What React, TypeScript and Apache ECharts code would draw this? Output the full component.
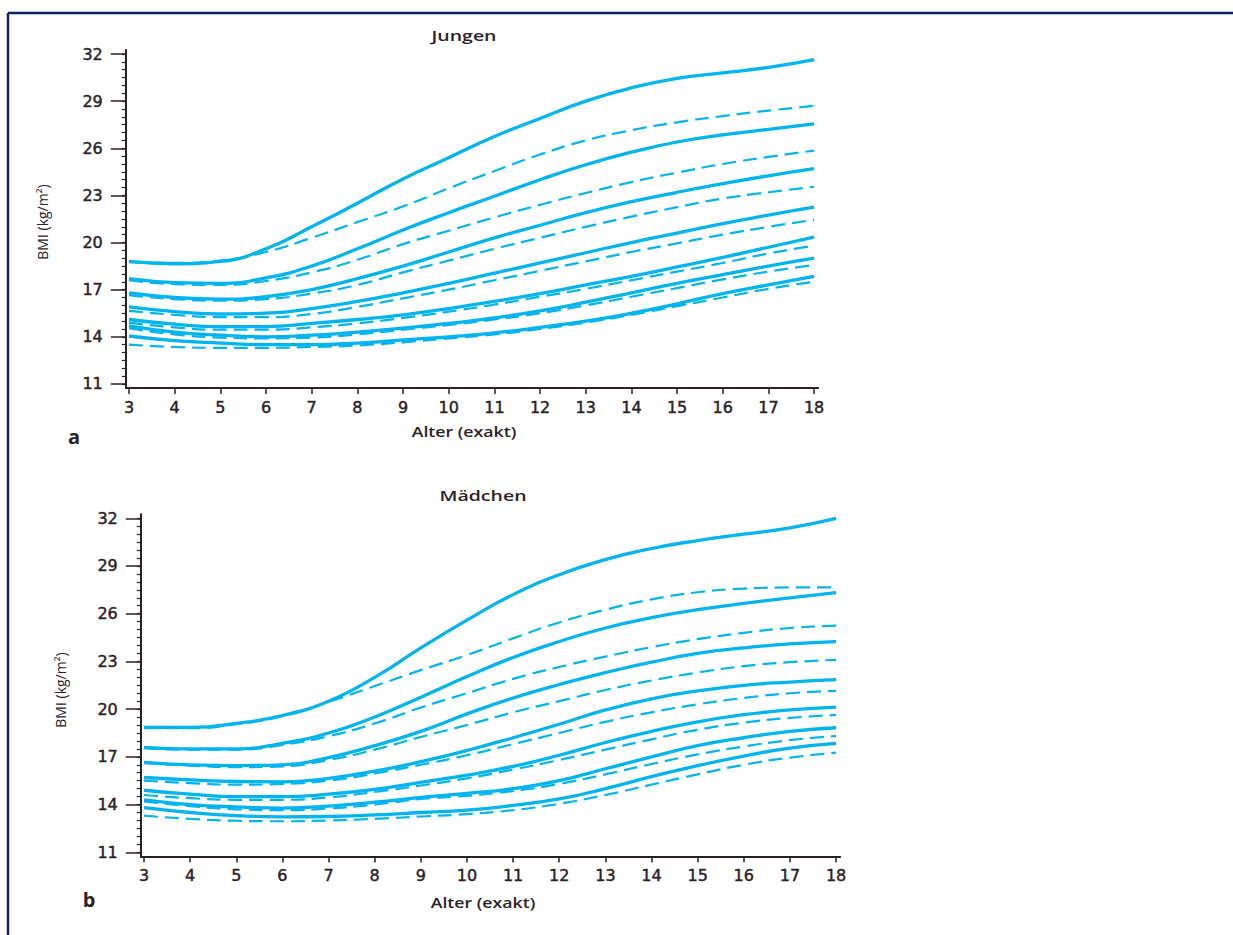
import React, { useEffect, useRef } from "react";
import * as echarts from "echarts";

// ---------- data ----------
const AGES = [3, 4, 5, 6, 7, 8, 9, 10, 11, 12, 13, 14, 15, 16, 17, 18];
const X_TICKS = [3, 4, 5, 6, 7, 8, 9, 10, 11, 12, 13, 14, 15, 16, 17, 18];
const Y_TICKS = [11, 14, 17, 20, 23, 26, 29, 32];
const Y_MINOR = [
  11, 11.5, 12, 12.5, 13, 13.5, 14, 14.5, 15, 15.5, 16, 16.5, 17, 17.5, 18, 18.5, 19, 19.5, 20, 20.5, 21, 21.5,
  22, 22.5, 23, 23.5, 24, 24.5, 25, 25.5, 26, 26.5, 27, 27.5, 28, 28.5, 29, 29.5, 30, 30.5, 31, 31.5, 32,
];
const PERCENTILES = ["P3", "P10", "P25", "P50", "P75", "P90", "P97"];

// Jungen – solid curves
const jS3 = [14.05, 13.75, 13.6, 13.5, 13.5, 13.6, 13.8, 14.0, 14.25, 14.6, 15.0, 15.5, 16.1, 16.75, 17.3, 17.85];
const jS10 = [14.7, 14.3, 14.1, 14.0, 14.1, 14.3, 14.55, 14.85, 15.2, 15.65, 16.2, 16.8, 17.4, 17.95, 18.5, 19.0];
const jS25 = [15.1, 14.8, 14.65, 14.65, 14.85, 15.1, 15.4, 15.8, 16.25, 16.75, 17.3, 17.85, 18.45, 19.05, 19.7, 20.35];
const jS50 = [15.9, 15.6, 15.45, 15.5, 15.8, 16.25, 16.8, 17.4, 18.05, 18.7, 19.35, 20.0, 20.6, 21.2, 21.75, 22.25];
const jS75 = [16.8, 16.5, 16.4, 16.55, 17.0, 17.7, 18.5, 19.4, 20.3, 21.1, 21.9, 22.6, 23.2, 23.75, 24.25, 24.7];
const jS90 = [17.7, 17.45, 17.4, 17.75, 18.5, 19.6, 20.8, 21.9, 22.95, 24.0, 24.95, 25.75, 26.4, 26.85, 27.2, 27.55];
const jS97 = [18.8, 18.65, 18.8, 19.6, 21.0, 22.5, 24.05, 25.4, 26.75, 27.9, 29.0, 29.85, 30.45, 30.8, 31.15, 31.65];
// Jungen – dashed curves
const jD3 = [13.5, 13.35, 13.3, 13.3, 13.35, 13.45, 13.65, 13.9, 14.15, 14.5, 14.9, 15.4, 15.95, 16.5, 17.05, 17.5];
const jD10 = [14.55, 14.15, 13.95, 13.9, 13.95, 14.15, 14.45, 14.75, 15.1, 15.5, 16.0, 16.55, 17.1, 17.65, 18.15, 18.57];
const jD25 = [14.9, 14.6, 14.45, 14.45, 14.6, 14.85, 15.2, 15.6, 16.05, 16.55, 17.05, 17.6, 18.15, 18.7, 19.3, 19.8];
const jD50 = [15.65, 15.4, 15.25, 15.25, 15.45, 15.9, 16.45, 17.0, 17.6, 18.2, 18.8, 19.4, 19.95, 20.5, 21.0, 21.45];
const jD75 = [16.65, 16.4, 16.3, 16.4, 16.75, 17.3, 18.1, 18.85, 19.6, 20.3, 21.0, 21.65, 22.25, 22.8, 23.2, 23.55];
const jD90 = [17.6, 17.35, 17.3, 17.55, 18.1, 18.9, 19.9, 20.75, 21.6, 22.4, 23.15, 23.85, 24.45, 25.0, 25.45, 25.85];
const jD97 = [18.75, 18.7, 18.85, 19.4, 20.3, 21.3, 22.3, 23.45, 24.55, 25.6, 26.5, 27.15, 27.65, 28.05, 28.4, 28.7];

// Mädchen – solid curves
const mS3 = [13.8, 13.5, 13.3, 13.23, 13.25, 13.35, 13.5, 13.65, 13.95, 14.35, 15.0, 15.75, 16.45, 17.05, 17.55, 17.85];
const mS10 = [14.3, 14.0, 13.85, 13.78, 13.9, 14.15, 14.45, 14.7, 15.0, 15.5, 16.25, 17.0, 17.7, 18.2, 18.6, 18.83];
const mS25 = [14.9, 14.65, 14.5, 14.5, 14.65, 14.95, 15.4, 15.85, 16.4, 17.1, 17.9, 18.6, 19.2, 19.65, 19.95, 20.13];
const mS50 = [15.7, 15.55, 15.45, 15.43, 15.65, 16.1, 16.7, 17.4, 18.2, 19.05, 19.95, 20.65, 21.15, 21.5, 21.7, 21.85];
const mS75 = [16.65, 16.5, 16.45, 16.5, 16.95, 17.7, 18.6, 19.7, 20.7, 21.55, 22.3, 22.95, 23.5, 23.85, 24.1, 24.24];
const mS90 = [17.6, 17.5, 17.5, 17.85, 18.5, 19.5, 20.75, 22.05, 23.25, 24.25, 25.1, 25.75, 26.25, 26.65, 27.0, 27.32];
const mS97 = [18.85, 18.85, 19.1, 19.6, 20.5, 22.0, 23.85, 25.6, 27.2, 28.45, 29.4, 30.1, 30.6, 31.0, 31.4, 32.0];
// Mädchen – dashed curves
const mD3 = [13.3, 13.1, 12.98, 12.95, 13.0, 13.1, 13.25, 13.4, 13.65, 14.05, 14.6, 15.25, 15.9, 16.5, 16.95, 17.26];
const mD10 = [14.2, 13.9, 13.7, 13.65, 13.75, 14.0, 14.35, 14.55, 14.85, 15.3, 15.9, 16.55, 17.15, 17.65, 18.05, 18.31];
const mD25 = [14.6, 14.4, 14.3, 14.3, 14.45, 14.8, 15.2, 15.65, 16.2, 16.8, 17.45, 18.1, 18.7, 19.15, 19.45, 19.63];
const mD50 = [15.5, 15.35, 15.25, 15.3, 15.5, 15.95, 16.5, 17.1, 17.8, 18.5, 19.2, 19.8, 20.3, 20.7, 21.0, 21.15];
const mD75 = [16.6, 16.45, 16.35, 16.4, 16.8, 17.45, 18.25, 19.0, 19.8, 20.5, 21.2, 21.8, 22.3, 22.7, 22.95, 23.1];
const mD90 = [17.55, 17.45, 17.45, 17.75, 18.3, 19.1, 20.1, 21.0, 21.9, 22.65, 23.3, 23.9, 24.4, 24.8, 25.1, 25.25];
const mD97 = [18.8, 18.8, 19.05, 19.55, 20.45, 21.45, 22.45, 23.4, 24.45, 25.45, 26.25, 26.9, 27.35, 27.58, 27.65, 27.66];

// ---------- styling / layout ----------
const LINE_COLOR = "#00b4f0";
const INK = "#2a2226";
const FONT = "'Open Sans', 'Noto Sans', sans-serif";
const TICK_FONT = "'DejaVu Sans', 'Open Sans', sans-serif";
const X_MIN = 2.93;
const X_MAX = 18.09;
const Y_MIN = 10.74;
const Y_MAX = 32.25;

const PANELS = [
  {
    title: "Jungen",
    tag: "a",
    solid: [jS3, jS10, jS25, jS50, jS75, jS90, jS97],
    dashed: [jD3, jD10, jD25, jD50, jD75, jD90, jD97],
    grid: { left: 125.8, top: 50.1, width: 692.4, height: 337.9 },
    titlePos: [464, 35],
    xNamePos: [464, 431],
    yNamePos: [42, 222],
    tagPos: [74, 436],
  },
  {
    title: "Mädchen",
    tag: "b",
    solid: [mS3, mS10, mS25, mS50, mS75, mS90, mS97],
    dashed: [mD3, mD10, mD25, mD50, mD75, mD90, mD97],
    grid: { left: 140.8, top: 514.3, width: 699.4, height: 342.1 },
    titlePos: [483, 495],
    xNamePos: [483, 902],
    yNamePos: [60, 690],
    tagPos: [89, 899],
  },
];

const tickLabelStyle = {
  fontSize: 16,
  fontFamily: TICK_FONT,
  color: INK,
  textBorderColor: INK,
  textBorderWidth: 0.45,
};

function buildOption() {
  const grids: any[] = [];
  const xAxes: any[] = [];
  const yAxes: any[] = [];
  const series: any[] = [];
  const graphics: any[] = [];

  PANELS.forEach((p, pi) => {
    grids.push({ ...p.grid, containLabel: false });
    xAxes.push({
      type: "value",
      gridIndex: pi,
      min: X_MIN,
      max: X_MAX,
      splitLine: { show: false },
      axisLine: { show: true, lineStyle: { color: INK, width: 2 } },
      axisTick: { show: true, customValues: X_TICKS, length: 6, lineStyle: { color: INK, width: 1.5 } },
      axisLabel: { customValues: X_TICKS, margin: 11, ...tickLabelStyle },
    });
    // major y axis
    yAxes.push({
      type: "value",
      gridIndex: pi,
      position: "left",
      min: Y_MIN,
      max: Y_MAX,
      splitLine: { show: false },
      axisLine: { show: true, lineStyle: { color: INK, width: 2 } },
      axisTick: { show: true, customValues: Y_TICKS, length: 15, lineStyle: { color: INK, width: 1.5 } },
      axisLabel: { customValues: Y_TICKS, margin: 23, ...tickLabelStyle },
    });
    // minor y ticks
    yAxes.push({
      type: "value",
      gridIndex: pi,
      position: "left",
      offset: 0,
      min: Y_MIN,
      max: Y_MAX,
      splitLine: { show: false },
      axisLine: { show: false },
      axisLabel: { show: false },
      axisTick: { show: true, customValues: Y_MINOR, length: 4, lineStyle: { color: INK, width: 1.2 } },
    });

    const yIdx = pi * 2;
    p.dashed.forEach((vals, k) => {
      series.push({
        name: `${p.title} ${PERCENTILES[k]} (gestrichelt)`,
        type: "line",
        xAxisIndex: pi,
        yAxisIndex: yIdx,
        data: AGES.map((a, i) => [a, vals[i]]),
        smooth: true,
        showSymbol: false,
        symbol: "none",
        lineStyle: { color: LINE_COLOR, width: 2.2, type: [14, 7] },
        z: 2,
      });
    });
    p.solid.forEach((vals, k) => {
      series.push({
        name: `${p.title} ${PERCENTILES[k]}`,
        type: "line",
        xAxisIndex: pi,
        yAxisIndex: yIdx,
        data: AGES.map((a, i) => [a, vals[i]]),
        smooth: true,
        showSymbol: false,
        symbol: "none",
        lineStyle: { color: LINE_COLOR, width: 3.3 },
        z: 3,
      });
    });

    graphics.push(
      {
        type: "text",
        x: p.titlePos[0],
        y: p.titlePos[1],
        scaleX: 1.3,
        style: {
          text: p.title,
          fill: INK,
          font: `600 15px ${FONT}`,
          textAlign: "center",
          textVerticalAlign: "middle",
        },
      },
      {
        type: "text",
        x: p.xNamePos[0],
        y: p.xNamePos[1],
        scaleX: 1.18,
        style: {
          text: "Alter (exakt)",
          fill: INK,
          font: `600 15px ${FONT}`,
          textAlign: "center",
          textVerticalAlign: "middle",
        },
      },
      {
        type: "text",
        x: p.yNamePos[0],
        y: p.yNamePos[1],
        rotation: Math.PI / 2,
        style: {
          text: "BMI (kg/m²)",
          fill: INK,
          font: `500 14px ${FONT}`,
          textAlign: "center",
          textVerticalAlign: "middle",
        },
      },
      {
        type: "text",
        x: p.tagPos[0],
        y: p.tagPos[1],
        style: {
          text: p.tag,
          fill: INK,
          font: `bold 20px ${FONT}`,
          textAlign: "center",
          textVerticalAlign: "middle",
        },
      }
    );
  });

  // page frame (top and left rules)
  graphics.push(
    { type: "line", shape: { x1: 8, y1: 13, x2: 1233, y2: 13 }, style: { stroke: "#0b2263", lineWidth: 2.5 } },
    { type: "line", shape: { x1: 8, y1: 13, x2: 8, y2: 935 }, style: { stroke: "#0b2263", lineWidth: 2.5 } }
  );

  return {
    animation: false,
    backgroundColor: "#ffffff",
    grid: grids,
    xAxis: xAxes,
    yAxis: yAxes,
    series,
    graphic: graphics,
  };
}

export default function App() {
  const ref = useRef<HTMLDivElement>(null);
  useEffect(() => {
    if (!ref.current) return;
    const chart = echarts.init(ref.current, null, { renderer: "svg" });
    chart.setOption(buildOption());
    return () => chart.dispose();
  }, []);
  return (
    <div
      ref={ref}
      style={{ position: "fixed", left: 0, top: 0, width: 1233, height: 935, background: "#ffffff" }}
    />
  );
}
